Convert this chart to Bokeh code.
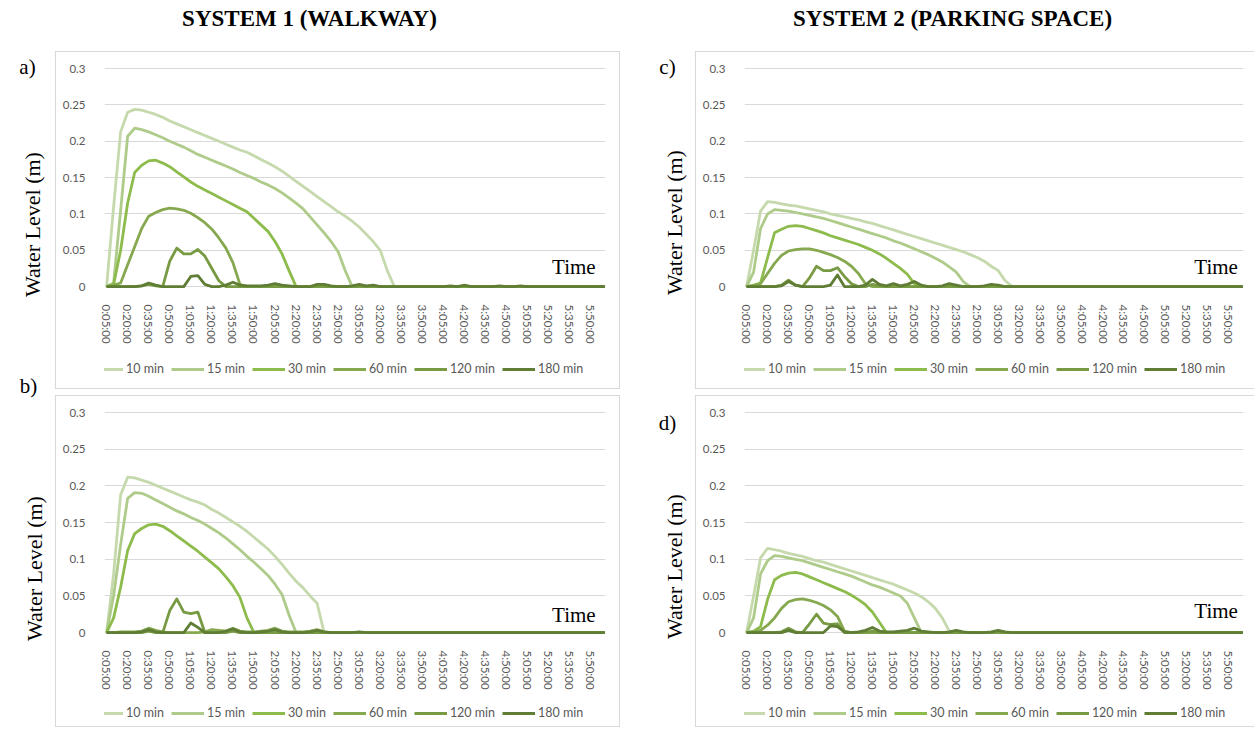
import math
from bokeh.plotting import figure
from bokeh.layouts import column, row
from bokeh.models import Range1d, FixedTicker, Legend, LegendItem, Label, Spacer
from bokeh.embed import file_html
from bokeh.resources import INLINE

# ---------------- data ----------------
TIME_LABELS = [f"{m // 60}:{m % 60:02d}:00" for m in range(5, 361, 5)]  # 0:05:00 ... 6:00:00
SHOWN_TICKS = list(range(0, 72, 3))
SERIES_NAMES = ["10 min", "15 min", "30 min", "60 min", "120 min", "180 min"]
COLORS = ["#c5d9ac", "#aecb8a", "#8dbb4c", "#86a94f", "#779a42", "#5f7d35"]
Y_TICKS = [0, 0.05, 0.1, 0.15, 0.2, 0.25, 0.3]
Y_TICK_LABELS = ["0", "0.05", "0.1", "0.15", "0.2", "0.25", "0.3"]

# System 1 (walkway) - panel a
A10 = [0, 0.11, 0.213, 0.240, 0.244, 0.243, 0.240, 0.237, 0.233, 0.228, 0.224, 0.220,
       0.216, 0.212, 0.208, 0.204, 0.200, 0.196, 0.192, 0.188, 0.185, 0.180, 0.175, 0.170,
       0.165, 0.159, 0.152, 0.145, 0.138, 0.131, 0.124, 0.117, 0.110, 0.103, 0.097, 0.090,
       0.082, 0.072, 0.062, 0.050, 0.022, 0, 0, 0, 0, 0, 0, 0,
       0, 0, 0, 0, 0, 0, 0, 0, 0, 0, 0, 0,
       0, 0, 0, 0, 0, 0, 0, 0, 0, 0, 0, 0]
A15 = [0, 0.005, 0.105, 0.207, 0.218, 0.216, 0.213, 0.209, 0.205, 0.200, 0.196, 0.192,
       0.187, 0.182, 0.178, 0.174, 0.170, 0.166, 0.162, 0.157, 0.153, 0.149, 0.144, 0.140,
       0.135, 0.129, 0.122, 0.115, 0.107, 0.096, 0.085, 0.074, 0.062, 0.048, 0.022, 0,
       0, 0, 0, 0, 0, 0, 0, 0, 0, 0, 0, 0,
       0, 0, 0, 0, 0, 0, 0, 0, 0, 0, 0, 0,
       0, 0, 0, 0, 0, 0, 0, 0, 0, 0, 0, 0]
A30 = [0, 0.003, 0.05, 0.115, 0.157, 0.167, 0.173, 0.174, 0.170, 0.165, 0.158, 0.151,
       0.144, 0.138, 0.133, 0.128, 0.123, 0.118, 0.113, 0.108, 0.103, 0.094, 0.085, 0.076,
       0.062, 0.045, 0.022, 0, 0, 0, 0, 0, 0, 0, 0, 0,
       0, 0, 0, 0, 0, 0, 0, 0, 0, 0, 0, 0,
       0, 0, 0, 0, 0, 0, 0, 0, 0, 0, 0, 0,
       0, 0, 0, 0, 0, 0, 0, 0, 0, 0, 0, 0]
A60 = [0, 0.002, 0.005, 0.03, 0.055, 0.08, 0.097, 0.102, 0.106, 0.108, 0.107, 0.105,
       0.101, 0.095, 0.088, 0.079, 0.067, 0.053, 0.033, 0.003, 0, 0, 0, 0,
       0, 0, 0, 0, 0, 0, 0, 0, 0, 0, 0, 0,
       0, 0, 0, 0, 0, 0, 0, 0, 0, 0, 0, 0,
       0, 0, 0, 0, 0, 0, 0, 0, 0, 0, 0, 0,
       0, 0, 0, 0, 0, 0, 0, 0, 0, 0, 0, 0]
A120 = [0, 0, 0, 0, 0, 0.001, 0.003, 0.001, 0, 0.035, 0.053, 0.045,
        0.045, 0.051, 0.042, 0.025, 0.008, 0, 0, 0, 0, 0, 0, 0,
        0, 0, 0, 0, 0, 0, 0, 0, 0, 0, 0, 0,
        0, 0, 0, 0, 0, 0, 0, 0, 0, 0, 0, 0,
        0, 0, 0, 0, 0, 0, 0, 0, 0, 0, 0, 0,
        0, 0, 0, 0, 0, 0, 0, 0, 0, 0, 0, 0]
A180 = [0, 0, 0, 0, 0, 0.001, 0.005, 0.002, 0, 0, 0, 0,
        0.014, 0.015, 0.003, 0, 0, 0.002, 0.006, 0.002, 0.001, 0.001, 0.001, 0.002,
        0.004, 0.002, 0.001, 0, 0, 0, 0.003, 0.003, 0.001, 0, 0, 0.001,
        0.003, 0.001, 0.002, 0, 0, 0, 0, 0, 0, 0, 0, 0,
        0, 0.001, 0, 0.002, 0, 0, 0, 0, 0.001, 0, 0, 0.001,
        0, 0, 0, 0, 0, 0, 0, 0, 0, 0, 0, 0]

# System 1 (walkway) - panel b
B10 = [0, 0.08, 0.188, 0.212, 0.211, 0.208, 0.205, 0.201, 0.197, 0.193, 0.189, 0.185,
       0.181, 0.178, 0.174, 0.168, 0.163, 0.157, 0.151, 0.145, 0.138, 0.130, 0.122, 0.114,
       0.104, 0.093, 0.081, 0.070, 0.061, 0.050, 0.040, 0, 0, 0, 0, 0,
       0, 0, 0, 0, 0, 0, 0, 0, 0, 0, 0, 0,
       0, 0, 0, 0, 0, 0, 0, 0, 0, 0, 0, 0,
       0, 0, 0, 0, 0, 0, 0, 0, 0, 0, 0, 0]
B15 = [0, 0.05, 0.12, 0.183, 0.191, 0.190, 0.186, 0.181, 0.176, 0.171, 0.166, 0.162,
       0.157, 0.153, 0.148, 0.142, 0.136, 0.129, 0.121, 0.113, 0.104, 0.096, 0.087, 0.078,
       0.066, 0.052, 0.024, 0, 0, 0, 0, 0, 0, 0, 0, 0,
       0, 0, 0, 0, 0, 0, 0, 0, 0, 0, 0, 0,
       0, 0, 0, 0, 0, 0, 0, 0, 0, 0, 0, 0,
       0, 0, 0, 0, 0, 0, 0, 0, 0, 0, 0, 0]
B30 = [0, 0.02, 0.062, 0.112, 0.135, 0.142, 0.147, 0.148, 0.145, 0.139, 0.132, 0.125,
       0.118, 0.111, 0.103, 0.095, 0.087, 0.076, 0.064, 0.048, 0.020, 0, 0, 0,
       0, 0, 0, 0, 0, 0, 0, 0, 0, 0, 0, 0,
       0, 0, 0, 0, 0, 0, 0, 0, 0, 0, 0, 0,
       0, 0, 0, 0, 0, 0, 0, 0, 0, 0, 0, 0,
       0, 0, 0, 0, 0, 0, 0, 0, 0, 0, 0, 0]
B60 = [0, 0, 0.001, 0.001, 0.001, 0.002, 0.006, 0.003, 0.001, 0, 0, 0,
       0, 0, 0.001, 0.004, 0.003, 0.002, 0.006, 0.002, 0.001, 0.001, 0.002, 0.003,
       0.006, 0.002, 0.001, 0.001, 0.001, 0.002, 0.004, 0.001, 0, 0, 0, 0,
       0, 0, 0, 0, 0, 0, 0, 0, 0, 0, 0, 0,
       0, 0, 0, 0, 0, 0, 0, 0, 0, 0, 0, 0,
       0, 0, 0, 0, 0, 0, 0, 0, 0, 0, 0, 0]
B120 = [0, 0, 0, 0, 0, 0, 0.002, 0, 0, 0.030, 0.046, 0.028,
        0.026, 0.028, 0, 0, 0, 0, 0.002, 0, 0, 0, 0, 0,
        0, 0, 0, 0, 0, 0, 0, 0, 0, 0, 0, 0,
        0, 0, 0, 0, 0, 0, 0, 0, 0, 0, 0, 0,
        0, 0, 0, 0, 0, 0, 0, 0, 0, 0, 0, 0,
        0, 0, 0, 0, 0, 0, 0, 0, 0, 0, 0, 0]
B180 = [0, 0, 0, 0, 0, 0.001, 0.004, 0.001, 0, 0, 0, 0,
        0.013, 0.007, 0, 0, 0, 0.002, 0.005, 0.001, 0, 0, 0.001, 0.002,
        0.004, 0.001, 0, 0, 0, 0.001, 0.003, 0.001, 0, 0, 0, 0,
        0.001, 0, 0, 0, 0, 0, 0, 0, 0, 0, 0, 0,
        0, 0, 0, 0, 0, 0, 0, 0, 0, 0, 0, 0,
        0, 0, 0, 0, 0, 0, 0, 0, 0, 0, 0, 0]

# System 2 (parking space) - panel c
C10 = [0, 0.05, 0.104, 0.117, 0.116, 0.114, 0.112, 0.111, 0.109, 0.107, 0.105, 0.103,
       0.100, 0.098, 0.096, 0.094, 0.092, 0.089, 0.087, 0.084, 0.081, 0.078, 0.075, 0.072,
       0.069, 0.066, 0.063, 0.060, 0.057, 0.054, 0.051, 0.048, 0.044, 0.040, 0.035, 0.028,
       0.022, 0.008, 0, 0, 0, 0, 0, 0, 0, 0, 0, 0,
       0, 0, 0, 0, 0, 0, 0, 0, 0, 0, 0, 0,
       0, 0, 0, 0, 0, 0, 0, 0, 0, 0, 0, 0]
C15 = [0, 0.02, 0.08, 0.100, 0.106, 0.105, 0.104, 0.102, 0.100, 0.098, 0.096, 0.094,
       0.091, 0.088, 0.085, 0.082, 0.079, 0.076, 0.073, 0.070, 0.067, 0.063, 0.060, 0.056,
       0.052, 0.048, 0.044, 0.039, 0.034, 0.027, 0.020, 0.007, 0, 0, 0, 0,
       0, 0, 0, 0, 0, 0, 0, 0, 0, 0, 0, 0,
       0, 0, 0, 0, 0, 0, 0, 0, 0, 0, 0, 0,
       0, 0, 0, 0, 0, 0, 0, 0, 0, 0, 0, 0]
C30 = [0, 0.002, 0.005, 0.04, 0.074, 0.079, 0.083, 0.084, 0.083, 0.080, 0.077, 0.074,
       0.070, 0.067, 0.064, 0.061, 0.058, 0.054, 0.050, 0.045, 0.039, 0.032, 0.025, 0.017,
       0.004, 0, 0, 0, 0, 0, 0, 0, 0, 0, 0, 0,
       0, 0, 0, 0, 0, 0, 0, 0, 0, 0, 0, 0,
       0, 0, 0, 0, 0, 0, 0, 0, 0, 0, 0, 0,
       0, 0, 0, 0, 0, 0, 0, 0, 0, 0, 0, 0]
C60 = [0, 0.001, 0.004, 0.018, 0.032, 0.043, 0.049, 0.051, 0.052, 0.052, 0.050, 0.047,
       0.044, 0.040, 0.035, 0.028, 0.018, 0.004, 0, 0, 0, 0, 0, 0,
       0, 0, 0, 0, 0, 0, 0, 0, 0, 0, 0, 0,
       0, 0, 0, 0, 0, 0, 0, 0, 0, 0, 0, 0,
       0, 0, 0, 0, 0, 0, 0, 0, 0, 0, 0, 0,
       0, 0, 0, 0, 0, 0, 0, 0, 0, 0, 0, 0]
C120 = [0, 0, 0, 0, 0, 0.002, 0.009, 0.002, 0, 0.012, 0.028, 0.022,
        0.022, 0.026, 0.014, 0.004, 0, 0, 0.003, 0.001, 0, 0, 0, 0,
        0, 0, 0, 0, 0, 0, 0, 0, 0, 0, 0, 0,
        0, 0, 0, 0, 0, 0, 0, 0, 0, 0, 0, 0,
        0, 0, 0, 0, 0, 0, 0, 0, 0, 0, 0, 0,
        0, 0, 0, 0, 0, 0, 0, 0, 0, 0, 0, 0]
C180 = [0, 0, 0, 0, 0, 0.001, 0.007, 0.002, 0, 0, 0, 0,
        0.002, 0.016, 0, 0, 0, 0.002, 0.010, 0.003, 0.001, 0.004, 0.001, 0.003,
        0.007, 0.002, 0, 0, 0.001, 0.004, 0.002, 0, 0, 0, 0.001, 0.003,
        0.002, 0, 0, 0, 0, 0, 0, 0, 0, 0, 0, 0,
        0, 0, 0, 0, 0, 0, 0, 0, 0, 0, 0, 0,
        0, 0, 0, 0, 0, 0, 0, 0, 0, 0, 0, 0]

# System 2 (parking space) - panel d
D10 = [0, 0.05, 0.102, 0.115, 0.113, 0.111, 0.108, 0.106, 0.104, 0.101, 0.098, 0.096,
       0.093, 0.090, 0.087, 0.084, 0.081, 0.078, 0.075, 0.072, 0.069, 0.066, 0.062, 0.058,
       0.054, 0.049, 0.042, 0.033, 0.020, 0.002, 0, 0, 0, 0, 0, 0,
       0, 0, 0, 0, 0, 0, 0, 0, 0, 0, 0, 0,
       0, 0, 0, 0, 0, 0, 0, 0, 0, 0, 0, 0,
       0, 0, 0, 0, 0, 0, 0, 0, 0, 0, 0, 0]
D15 = [0, 0.02, 0.08, 0.098, 0.105, 0.104, 0.102, 0.100, 0.098, 0.095, 0.092, 0.089,
       0.086, 0.083, 0.080, 0.077, 0.073, 0.069, 0.065, 0.062, 0.058, 0.054, 0.050, 0.040,
       0.020, 0, 0, 0, 0, 0, 0, 0, 0, 0, 0, 0,
       0, 0, 0, 0, 0, 0, 0, 0, 0, 0, 0, 0,
       0, 0, 0, 0, 0, 0, 0, 0, 0, 0, 0, 0,
       0, 0, 0, 0, 0, 0, 0, 0, 0, 0, 0, 0]
D30 = [0, 0.002, 0.008, 0.045, 0.072, 0.078, 0.081, 0.082, 0.080, 0.076, 0.072, 0.068,
       0.064, 0.060, 0.056, 0.051, 0.045, 0.038, 0.028, 0.014, 0, 0, 0, 0,
       0, 0, 0, 0, 0, 0, 0, 0, 0, 0, 0, 0,
       0, 0, 0, 0, 0, 0, 0, 0, 0, 0, 0, 0,
       0, 0, 0, 0, 0, 0, 0, 0, 0, 0, 0, 0,
       0, 0, 0, 0, 0, 0, 0, 0, 0, 0, 0, 0]
D60 = [0, 0.001, 0.003, 0.010, 0.020, 0.033, 0.042, 0.045, 0.046, 0.044, 0.041, 0.037,
       0.031, 0.022, 0.002, 0, 0, 0, 0, 0, 0, 0, 0, 0,
       0, 0, 0, 0, 0, 0, 0, 0, 0, 0, 0, 0,
       0, 0, 0, 0, 0, 0, 0, 0, 0, 0, 0, 0,
       0, 0, 0, 0, 0, 0, 0, 0, 0, 0, 0, 0,
       0, 0, 0, 0, 0, 0, 0, 0, 0, 0, 0, 0]
D120 = [0, 0, 0, 0, 0, 0.001, 0.006, 0.001, 0, 0.012, 0.025, 0.013,
        0.011, 0.012, 0, 0, 0, 0, 0.002, 0, 0, 0, 0, 0,
        0, 0, 0, 0, 0, 0, 0, 0, 0, 0, 0, 0,
        0, 0, 0, 0, 0, 0, 0, 0, 0, 0, 0, 0,
        0, 0, 0, 0, 0, 0, 0, 0, 0, 0, 0, 0,
        0, 0, 0, 0, 0, 0, 0, 0, 0, 0, 0, 0]
D180 = [0, 0, 0, 0, 0, 0, 0.003, 0, 0, 0, 0, 0,
        0.009, 0.008, 0.001, 0, 0.001, 0.003, 0.007, 0.002, 0.001, 0.001, 0.002, 0.003,
        0.006, 0.002, 0.001, 0, 0, 0.001, 0.003, 0.001, 0, 0, 0, 0.001,
        0.003, 0.001, 0, 0, 0, 0, 0, 0, 0, 0, 0, 0,
        0, 0, 0, 0, 0, 0, 0, 0, 0, 0, 0, 0,
        0, 0, 0, 0, 0, 0, 0, 0, 0, 0, 0, 0]

SERIF = "Liberation Serif"
SANS = "Lato"
GRID = "#d9d9d9"
LABEL_GRAY = "#595959"
BORDER = "1px solid #d9d9d9"


def make_panel(series, width, height, b_left, b_right, b_top, b_bottom, time_x, time_y, right_edge):
    css = {"border-top": BORDER, "border-left": BORDER}
    if right_edge:
        css["border-right"] = BORDER
    p = figure(width=width, height=height, output_backend="svg", toolbar_location=None,
               x_range=Range1d(-0.3, 71.1), y_range=Range1d(-0.004, 0.303),
               min_border_left=b_left, min_border_right=b_right,
               min_border_top=b_top, min_border_bottom=b_bottom,
               outline_line_color=None, background_fill_color="white",
               border_fill_color="white", styles=css)
    xs = list(range(len(TIME_LABELS)))
    for vals, col in zip(series, COLORS):
        p.line(xs, vals, line_color=col, line_width=2.8, line_join="round")

    p.xaxis.ticker = FixedTicker(ticks=SHOWN_TICKS)
    p.xaxis.major_label_overrides = {i: TIME_LABELS[i] for i in SHOWN_TICKS}
    p.xaxis.major_label_orientation = "vertical"
    p.xaxis.major_label_text_font = SANS
    p.xaxis.major_label_text_font_size = "11.5px"
    p.xaxis.major_label_text_color = LABEL_GRAY
    p.xaxis.major_label_standoff = 9
    p.xaxis.axis_line_color = None
    p.xaxis.major_tick_line_color = None
    p.xaxis.minor_tick_line_color = None

    p.yaxis.ticker = FixedTicker(ticks=Y_TICKS)
    p.yaxis.major_label_overrides = dict(zip(Y_TICKS, Y_TICK_LABELS))
    p.yaxis.major_label_text_font = SANS
    p.yaxis.major_label_text_font_size = "11.5px"
    p.yaxis.major_label_text_color = LABEL_GRAY
    p.yaxis.major_label_standoff = 13
    p.yaxis.axis_line_color = None
    p.yaxis.major_tick_line_color = None
    p.yaxis.minor_tick_line_color = None

    p.xgrid.visible = False
    p.ygrid.ticker = FixedTicker(ticks=Y_TICKS)
    p.ygrid.grid_line_color = GRID
    p.ygrid.grid_line_width = 1

    p.add_layout(Label(x=time_x, y=time_y, text="Time", text_font=SERIF,
                       text_font_size="21px", text_align="right",
                       text_baseline="alphabetic", text_color="black"))
    return p


def legend_fig(width, height, loc, right_edge):
    # its frame lines up with the panel frame above it (same column)
    css = {"border-bottom": BORDER, "border-left": BORDER}
    if right_edge:
        css["border-right"] = BORDER
    f = figure(width=width, height=height, output_backend="svg", toolbar_location=None,
               x_range=Range1d(0, 1), y_range=Range1d(0, 1),
               x_axis_type=None, y_axis_type=None, min_border=0,
               outline_line_color=None, background_fill_color="white",
               border_fill_color="white", styles=css)
    f.grid.visible = False
    items = []
    for name, col in zip(SERIES_NAMES, COLORS):
        # invisible stand-in renderer, only used for the legend sample
        r = f.line(x=[float("nan")], y=[float("nan")], line_color=col, line_width=2.8)
        items.append(LegendItem(label=name, renderers=[r]))
    leg = Legend(items=items, orientation="horizontal", location=loc,
                 glyph_width=33, glyph_height=12, label_height=14,
                 label_standoff=3, spacing=7, padding=2, margin=0,
                 label_text_font=SANS, label_text_font_size="12.5px",
                 label_text_color=LABEL_GRAY, border_line_color=None,
                 background_fill_alpha=0)
    f.add_layout(leg, "center")
    return f


def text_fig(w, h, x0, y0):
    f = figure(width=w, height=h, output_backend="svg", toolbar_location=None,
               x_range=Range1d(x0, x0 + w), y_range=Range1d(y0 + h, y0),
               x_axis_type=None, y_axis_type=None, min_border=0,
               outline_line_color=None, background_fill_color="white",
               border_fill_color="white")
    f.grid.visible = False
    return f


# titles (figure covers page pixels x 0..1254, y 0..51)
title_fig = text_fig(1254, 51, 0, 0)
for txt, cx in (("SYSTEM 1 (WALKWAY)", 309), ("SYSTEM 2 (PARKING SPACE)", 952)):
    title_fig.add_layout(Label(x=cx, y=18, text=txt, text_font=SERIF, text_font_style="bold",
                               text_font_size="23px", text_align="center",
                               text_baseline="middle", text_color="black"))

# panel letters and y-axis titles
left_fig = text_fig(55, 676, 0, 51)
right_fig = text_fig(75, 676, 620, 51)
for f, letter, lx, ly, yx, yy in ((left_fig, "a)", 27, 66, 32, 224),
                                  (left_fig, "b)", 28, 385, 34, 568),
                                  (right_fig, "c)", 667, 66, 674, 222),
                                  (right_fig, "d)", 667, 422, 674, 566)):
    f.add_layout(Label(x=lx, y=ly, text=letter, text_font=SERIF, text_font_size="21px",
                       text_align="center", text_baseline="middle", text_color="black"))
    f.add_layout(Label(x=yx, y=yy, text="Water Level (m)", text_font=SERIF,
                       text_font_size="22px", text_align="center", text_baseline="middle",
                       angle=math.pi / 2, text_color="black"))

pa = make_panel([A10, A15, A30, A60, A120, A180], 565, 294, 48, 16, 14, 52, 69.7, 0.0265, True)
pb = make_panel([B10, B15, B30, B60, B120, B180], 565, 296, 48, 16, 14, 54, 69.7, 0.024, True)
pc = make_panel([C10, C15, C30, C60, C120, C180], 559, 294, 48, 12, 14, 52, 70.3, 0.0265, False)
pd = make_panel([D10, D15, D30, D60, D120, D180], 559, 296, 48, 12, 14, 54, 70.3, 0.029, False)

layout = column(
    title_fig,
    row(left_fig,
        column(pa, legend_fig(565, 44, (-14, 13), True), Spacer(width=565, height=6),
               pb, legend_fig(565, 36, (-14, 7), True), spacing=0),
        right_fig,
        column(pc, legend_fig(559, 44, (-12, 13), False), Spacer(width=559, height=6),
               pd, legend_fig(559, 36, (-12, 7), False), spacing=0),
        spacing=0),
    spacing=0)

open("out.html", "w").write(file_html(layout, INLINE))
